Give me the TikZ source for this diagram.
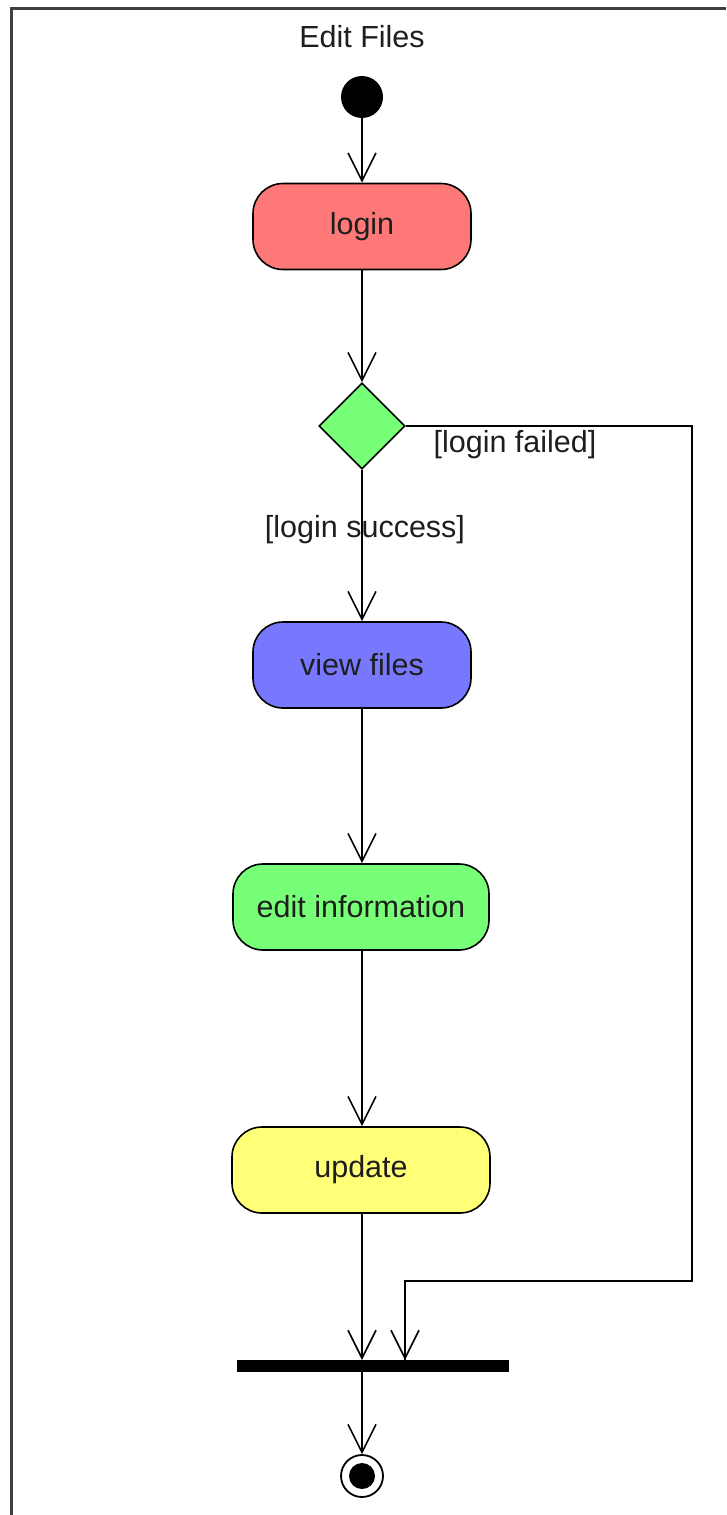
\documentclass[tikz,border=0pt]{standalone}
\usepackage{fontspec}
\setmainfont{Liberation Sans}
\usetikzlibrary{arrows.meta,shapes.geometric}
\definecolor{actred}{HTML}{FF7878}
\definecolor{actblue}{HTML}{7878FF}
\definecolor{actgreen}{HTML}{78FF78}
\definecolor{actyellow}{HTML}{FFFF78}
\definecolor{framegray}{HTML}{404040}
\definecolor{txt}{HTML}{1E1E1E}
\begin{document}
\begin{tikzpicture}[x=1pt,y=-1pt,
  every node/.style={font=\fontsize{30.5}{36}\selectfont, text=txt},
  action/.style={draw=black, line width=1.6pt, rounded corners=30pt,
    minimum height=86pt, inner sep=0pt},
  decision/.style={draw=black, line width=1.6pt, diamond, fill=actgreen,
    minimum width=86pt, minimum height=86pt, inner sep=0pt},
  flow/.style={draw=black, line width=1.6pt,
    -{Straight Barb[length=28pt,width=28pt,line width=1.6pt]}},
  plainline/.style={draw=black, line width=1.6pt},
  guard/.style={inner sep=0pt}
]
\useasboundingbox (0,0) rectangle (726,1515);
\fill[white] (0,0) rectangle (726,1515);

% diagram frame
\draw[framegray, line width=3pt] (11,1515) -- (11,8) -- (726,8);

% title
\node (title) at (362,37) {Edit Files};

% initial node
\node[circle, fill=black, minimum size=42pt, inner sep=0pt] (start) at (362,97) {};

% actions
\node[action, fill=actred, minimum width=218pt] (login) at (362,226.5) {login};
\node[decision] (dec) at (362,426) {};
\node[action, fill=actblue, minimum width=218pt] (view) at (362,665) {view files};
\node[action, fill=actgreen, minimum width=256pt] (edit) at (361,907) {edit information};
\node[action, fill=actyellow, minimum width=258pt] (update) at (361,1170) {update};

% join bar
\node[fill=black, minimum width=272pt, minimum height=12pt, inner sep=0pt] (bar) at (373,1366) {};

% final node
\node[circle, draw=black, line width=1.8pt, fill=white, minimum size=42pt, inner sep=0pt] (final) at (362,1476) {};
\node[circle, fill=black, minimum size=26pt, inner sep=0pt] (finaldot) at (final.center) {};

% guards
\node[guard] (failed) at (515,445) {[login failed]};
\node[guard] (success) at (365,530) {[login success]};

% connectors
\coordinate (c1) at (692,426);
\coordinate (c2) at (692,1281);
\coordinate (c3) at (405,1281);
\coordinate (barin) at (405,1360);
\coordinate (barmain) at (362,1360);
\coordinate (barout) at (362,1372);

\draw[flow] (start) -- (login.north -| start);
\draw[flow] (login.south -| start) -- (dec.north);
\draw[flow] (dec.south) -- (view.north -| dec);
\draw[flow] (view.south -| dec) -- (edit.north -| dec);
\draw[flow] (edit.south -| dec) -- (update.north -| dec);
\draw[flow] (update.south -| dec) -- (barmain);
\draw[plainline] (dec.east) -- (c1) -- (c2) -- (c3) -- (barin);
\draw[flow] (c3) -- (barin);
\draw[flow] (barout) -- (final.north);
\end{tikzpicture}
\end{document}
